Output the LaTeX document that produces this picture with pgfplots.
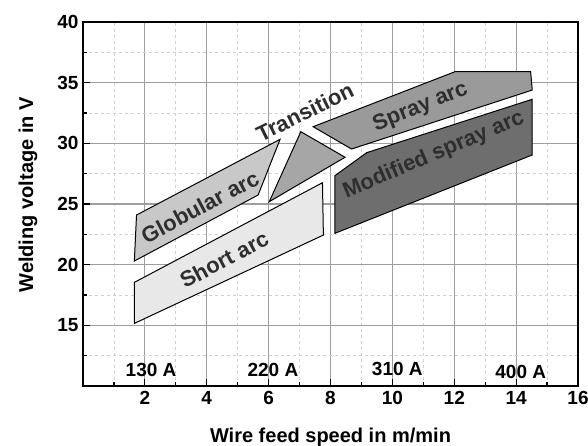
\documentclass[border=0pt]{standalone}
\usepackage{fontspec}
\setmainfont{Liberation Sans}
\usepackage{pgfplots}
\pgfplotsset{compat=1.18}
\definecolor{shortc}{HTML}{E8E8E8}
\definecolor{globc}{HTML}{C8C8C8}
\definecolor{transc}{HTML}{A6A6A6}
\definecolor{sprayc}{HTML}{9A9A9A}
\definecolor{modc}{HTML}{6E6E6E}
\definecolor{txtc}{HTML}{2E2E2E}
\begin{document}
\begin{tikzpicture}
\begin{axis}[
  at={(0,0)}, anchor=south west,
  scale only axis, width=495pt, height=364pt,
  xmin=0, xmax=16, ymin=10, ymax=40,
  xtick={2,4,...,16}, ytick={15,20,...,40},
  minor xtick={1,3,...,15}, minor ytick={12.5,17.5,...,37.5},
  xtick pos=bottom, ytick pos=left, tick align=inside,
  major tick length=7pt, minor tick length=4pt,
  grid=both,
  major grid style={draw=black!38, line width=1.1pt},
  minor grid style={draw=black!18, dashed, line width=0.8pt},
  axis line style={line width=1.8pt},
  every tick/.style={black, line width=1.2pt},
  /pgf/number format/assume math mode=true,
  tick label style={font=\fontsize{19}{21}\selectfont\bfseries},
  xticklabel style={yshift=-2pt},
  yticklabel style={xshift=-1pt},
  xlabel={Wire feed speed in m/min},
  ylabel={Welding voltage in V},
  label style={font=\fontsize{20}{22}\selectfont\bfseries},
  xlabel style={at={(axis description cs:0.5,-0.14)}, anchor=center},
  ylabel style={at={(axis description cs:-0.111,0.525)}, anchor=center},
]
% Short arc
\addplot[draw=black, line width=1pt, fill=shortc] coordinates {
  (1.66,15.16) (1.66,18.54) (7.74,26.75) (7.77,22.44)} -- cycle;
% Globular arc
\addplot[draw=black, line width=1pt, fill=globc] coordinates {
  (1.66,20.30) (1.73,24.09) (6.37,30.33) (5.66,25.74)} -- cycle;
% Transition
\addplot[draw=black, line width=1pt, fill=transc] coordinates {
  (6.02,25.19) (7.04,30.96) (8.47,28.85)} -- cycle;
% Spray arc
\addplot[draw=black, line width=1pt, fill=sprayc] coordinates {
  (7.44,31.37) (12.02,35.90) (14.47,35.90) (14.52,34.39) (8.68,29.53)} -- cycle;
% Modified spray arc
\addplot[draw=black, line width=1pt, fill=modc] coordinates {
  (8.14,22.58) (8.14,27.33) (9.17,29.23) (14.52,33.63) (14.52,29.04)} -- cycle;

\begin{scope}[every node/.style={font=\fontsize{22}{24}\selectfont\bfseries, text=txtc}]
\node[rotate=28] at (axis cs:3.78,24.77) {Globular arc};
\node[rotate=28] at (axis cs:4.56,20.44) {Short arc};
\node[rotate=26] at (axis cs:7.17,32.58) {Transition};
\node[rotate=22] at (axis cs:10.91,32.97) {Spray arc};
\node[rotate=23] at (axis cs:11.34,29.04) {Modified spray arc};
\end{scope}

\begin{scope}[every node/.style={font=\fontsize{19}{21}\selectfont\bfseries}]
\node at (axis cs:2.2,11.31) {130 A};
\node at (axis cs:6.14,11.31) {220 A};
\node at (axis cs:10.16,11.40) {310 A};
\node at (axis cs:14.15,11.19) {400 A};
\end{scope}
\end{axis}
\pgfresetboundingbox
\path[use as bounding box] (-83pt,-60pt) rectangle (505pt,386pt);
\end{tikzpicture}
\end{document}
